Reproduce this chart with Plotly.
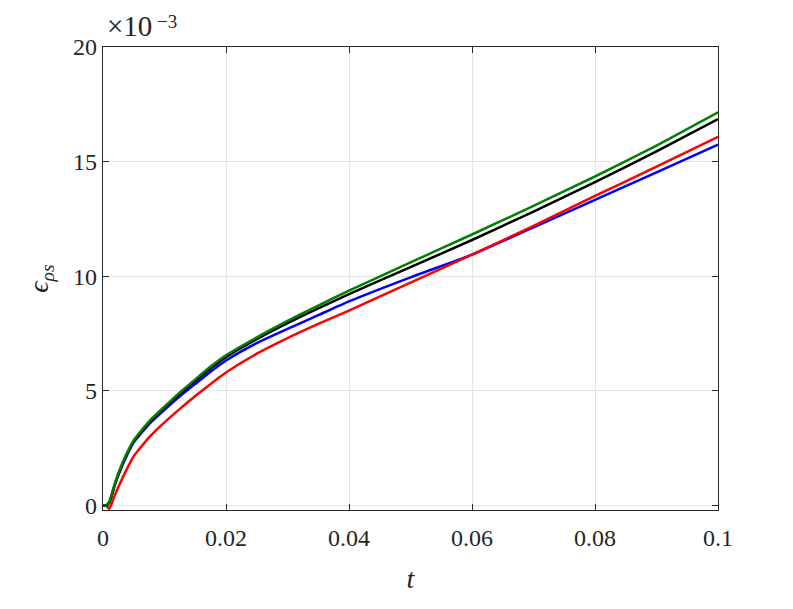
import plotly.graph_objects as go

# time samples
t = [0, 0.0005, 0.001, 0.002, 0.003, 0.004, 0.005, 0.0075, 0.01, 0.0125, 0.015, 0.0175,
     0.02, 0.025, 0.03, 0.035, 0.04, 0.05, 0.06, 0.07, 0.08, 0.09, 0.1]

# epsilon_rho_s values (x 1e-3)
eps_blue  = [0, 0, 0.10, 0.95, 1.65, 2.25, 2.75, 3.55, 4.17, 4.76, 5.30, 5.83,
             6.32, 7.08, 7.70, 8.30, 8.90, 9.95, 10.94, 12.13, 13.33, 14.53, 15.74]
eps_red   = [0, 0, -0.15, 0.50, 1.10, 1.65, 2.15, 2.97, 3.62, 4.21, 4.77, 5.30,
             5.80, 6.62, 7.30, 7.92, 8.50, 9.72, 10.94, 12.20, 13.50, 14.78, 16.08]
eps_black = [0, 0, 0.12, 0.98, 1.70, 2.30, 2.80, 3.62, 4.26, 4.87, 5.43, 5.97,
             6.47, 7.25, 7.95, 8.60, 9.22, 10.40, 11.58, 12.82, 14.10, 15.45, 16.85]
eps_green = [0, 0, 0.15, 1.03, 1.75, 2.35, 2.85, 3.67, 4.31, 4.93, 5.50, 6.06,
             6.55, 7.33, 8.05, 8.72, 9.37, 10.60, 11.82, 13.07, 14.35, 15.70, 17.15]

x_ticks = [0, 0.02, 0.04, 0.06, 0.08, 0.1]
x_labels = ["0", "0.02", "0.04", "0.06", "0.08", "0.1"]
y_ticks = [0, 5, 10, 15, 20]
y_labels = ["0", "5", "10", "15", "20"]

fig = go.Figure()
for vals, col in [(eps_blue, "#0000ff"), (eps_red, "#ff0000"),
                  (eps_black, "#000000"), (eps_green, "#008000")]:
    fig.add_trace(go.Scatter(x=t, y=vals, mode="lines",
                             line=dict(color=col, width=2.5, shape="spline", smoothing=0.5),
                             showlegend=False))

font_family = "Liberation Serif"
axis_common = dict(showline=True, linecolor="#262626", linewidth=1.2, mirror="ticks",
                   ticks="inside", ticklen=6, tickcolor="#262626",
                   showgrid=True, gridcolor="#e3e3e3", gridwidth=1, zeroline=False,
                   tickfont=dict(family=font_family, size=24, color="#262626"))

fig.update_layout(
    width=785, height=601,
    margin=dict(l=95, r=75, t=39, b=99, autoexpand=False),
    plot_bgcolor="white", paper_bgcolor="white",
    xaxis=dict(range=[0, 0.1], tickvals=x_ticks, ticktext=x_labels, ticklabelstandoff=6,
               title=dict(text="<i>t</i>", font=dict(family=font_family, size=28, color="#262626"),
                          standoff=18),
               **axis_common),
    yaxis=dict(range=[-0.2, 20], tickvals=y_ticks, ticktext=y_labels,
               title=dict(text="<i>ϵ</i><sub><i>ρs</i></sub>",
                          font=dict(family=font_family, size=28, color="#262626"),
                          standoff=16),
               **axis_common),
    annotations=[
        dict(text="×10", xref="paper", yref="paper", x=0, y=1.0,
             xanchor="left", yanchor="bottom", xshift=2, yshift=3, showarrow=False,
             font=dict(family=font_family, size=29, color="#262626")),
        dict(text="−3", xref="paper", yref="paper", x=0, y=1.0,
             xanchor="left", yanchor="bottom", xshift=52, yshift=13, showarrow=False,
             font=dict(family=font_family, size=19, color="#262626")),
    ],
)

fig.write_html("out.html")
